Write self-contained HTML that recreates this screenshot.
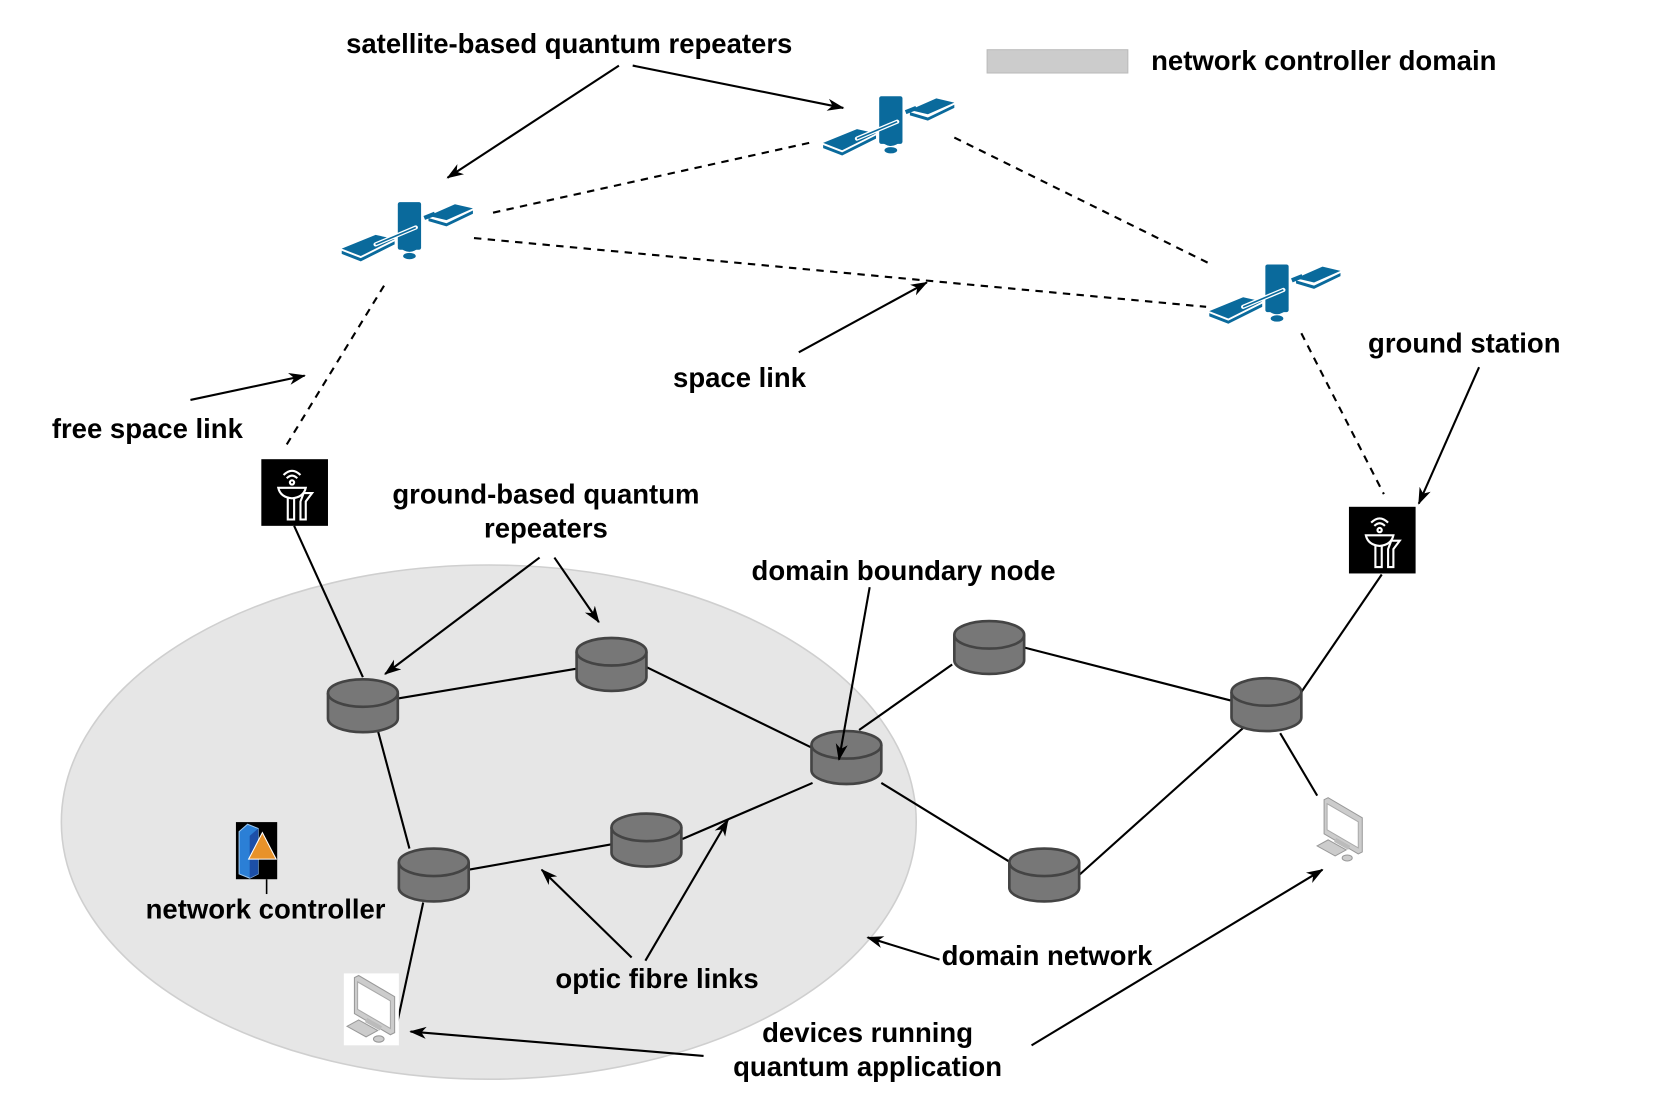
<!DOCTYPE html>
<html><head><meta charset="utf-8"><style>
html,body{margin:0;padding:0;background:#fff;width:1660px;height:1112px;overflow:hidden}
svg{display:block}
text{font-family:"Liberation Sans",Arial,sans-serif;font-weight:bold;font-size:26px;fill:#000}
</style></head><body>
<svg width="1660" height="1112" viewBox="0 0 1569 1051" preserveAspectRatio="none" xmlns="http://www.w3.org/2000/svg">
<defs>
<marker id="ah" viewBox="0 0 14 10" refX="13" refY="5" markerWidth="16" markerHeight="12" orient="auto" markerUnits="userSpaceOnUse">
<path d="M0,0 L14,5 L0,10 L4,5 Z" fill="#000"/>
</marker>
<g id="sat">
<polygon points="-62,17 -30,4 -12,8 -44,24" fill="#0a6a9c"/>
<polygon points="-62,19 -44,26 -12,10 -12,13 -44,29 -62,22" fill="#0a6a9c"/>
<rect x="-9" y="-27" width="22" height="45" rx="2" fill="#0a6a9c"/>
<path d="M-9,14 Q2,26 13,14 Z" fill="#0a6a9c"/>
<ellipse cx="2" cy="24" rx="6" ry="3" fill="#0a6a9c"/>
<line x1="-30" y1="13" x2="8" y2="-3" stroke="#fff" stroke-width="4" stroke-linecap="round"/>
<line x1="-30" y1="13" x2="8" y2="-3" stroke="#0a6a9c" stroke-width="1.5"/>
<polygon points="20,-14 45,-25 62,-21 37,-10" fill="#0a6a9c"/>
<polygon points="20,-12 37,-7 62,-19 62,-16 37,-4 20,-9" fill="#0a6a9c"/>
<path d="M16,-12 L26,-16" stroke="#0a6a9c" stroke-width="4"/>
</g>
<g id="cyl">
<path d="M-33,-12 V12 A33,13 0 0 0 33,12 V-12" fill="#777" stroke="#444" stroke-width="2.5"/>
<ellipse cx="0" cy="-12" rx="33" ry="13" fill="#777" stroke="#444" stroke-width="2.5"/>
</g>
<g id="gs">
<rect x="0" y="0" width="63" height="63" fill="#000"/>
<g fill="none" stroke="#fff" stroke-width="2">
<path d="M21,15 Q29,7 37,15"/><path d="M24,18 Q29,13 34,18"/>
<circle cx="29" cy="22" r="2"/>
<path d="M16,27 H42 Q40,36 29,37 Q18,36 16,27 Z"/>
<path d="M25,37 V57 H31 V37"/>
<path d="M37,40 V57 H42 V40 L48,32 H40 Z"/>
</g>
</g>
<g id="pc">
<rect x="0" y="0" width="52" height="68" fill="#fff"/>
<polygon points="10,4 14,2 48,22 48,56 44,58 10,38" fill="#ccc" stroke="#999"/>
<polygon points="13,8 44,26 44,52 13,34" fill="#fff" stroke="#aaa"/>
<polygon points="22,42 36,50 34,54 20,46" fill="#bbb"/>
<polygon points="3,50 14,44 32,54 21,60" fill="#ccc" stroke="#999"/>
<ellipse cx="33" cy="62" rx="5" ry="3" fill="#ccc" stroke="#999"/>
</g>
</defs>

<ellipse cx="462" cy="777" rx="404" ry="243" fill="#e6e6e6" stroke="#cfcfcf" stroke-width="1.5"/>
<rect x="933" y="47" width="133" height="22" fill="#ccc" stroke="#bbb"/>
<text x="1088" y="66">network controller domain</text>

<g stroke="#000" stroke-width="2" stroke-dasharray="7,6" fill="none">
<line x1="466" y1="201" x2="765" y2="135"/>
<line x1="902" y1="130" x2="1145" y2="250"/>
<line x1="448" y1="225" x2="1140" y2="290"/>
<line x1="363" y1="270" x2="268" y2="425"/>
<line x1="1230" y1="315" x2="1308" y2="467"/>
</g>

<use href="#sat" x="385" y="218"/>
<use href="#sat" x="840" y="118"/>
<use href="#sat" x="1205" y="277"/>

<g stroke="#000" stroke-width="2" fill="none">
<line x1="278" y1="497" x2="343" y2="640"/>
<line x1="377" y1="660" x2="545" y2="632"/>
<line x1="610" y1="630" x2="768" y2="707"/>
<line x1="357" y1="690" x2="387" y2="802"/>
<line x1="443" y1="822" x2="578" y2="798"/>
<line x1="645" y1="793" x2="768" y2="740"/>
<line x1="812" y1="690" x2="900" y2="628"/>
<line x1="968" y1="612" x2="1163" y2="662"/>
<line x1="833" y1="740" x2="955" y2="815"/>
<line x1="1020" y1="827" x2="1175" y2="688"/>
<line x1="1228" y1="657" x2="1306" y2="543"/>
<line x1="1210" y1="693" x2="1245" y2="752"/>
<line x1="400" y1="853" x2="373" y2="978"/>
</g>

<use href="#gs" x="247" y="434"/>
<use href="#gs" x="1275" y="479"/>

<use href="#cyl" x="343" y="667"/>
<use href="#cyl" x="578" y="628"/>
<use href="#cyl" x="800" y="716"/>
<use href="#cyl" x="410" y="827"/>
<use href="#cyl" x="611" y="794"/>
<use href="#cyl" x="935" y="612"/>
<use href="#cyl" x="1197" y="666"/>
<use href="#cyl" x="987" y="827"/>

<use href="#pc" x="325" y="920"/>
<g transform="translate(1242,752) scale(0.95)"><polygon points="10,4 14,2 48,22 48,56 44,58 10,38" fill="#ccc" stroke="#999"/><polygon points="13,8 44,26 44,52 13,34" fill="#fff" stroke="#aaa"/><polygon points="22,42 36,50 34,54 20,46" fill="#bbb"/><polygon points="3,50 14,44 32,54 21,60" fill="#ccc" stroke="#999"/><ellipse cx="33" cy="62" rx="5" ry="3" fill="#ccc" stroke="#999"/></g>

<rect x="223" y="777" width="39" height="54" fill="#000"/>
<polygon points="226,786 234,779 244,783 244,826 236,830 226,826" fill="#2b7fd6" stroke="#9cc8f0"/>
<polygon points="236,790 244,783 244,826 236,830" fill="#1c4fa8"/>
<polygon points="248,787 261,812 235,812" fill="#e8922a" stroke="#fff" stroke-width="1"/>
<line x1="252" y1="831" x2="252" y2="845" stroke="#000" stroke-width="1.5"/>

<g stroke="#000" stroke-width="2" fill="none" marker-end="url(#ah)">
<line x1="585" y1="62" x2="423" y2="168"/>
<line x1="598" y1="62" x2="797" y2="102"/>
<line x1="180" y1="378" x2="288" y2="355"/>
<line x1="755" y1="333" x2="876" y2="267"/>
<line x1="1398" y1="347" x2="1341" y2="476"/>
<line x1="510" y1="527" x2="364" y2="637"/>
<line x1="524" y1="527" x2="566" y2="588"/>
<line x1="822" y1="555" x2="793" y2="718"/>
<line x1="597" y1="905" x2="512" y2="822"/>
<line x1="610" y1="908" x2="688" y2="775"/>
<line x1="888" y1="907" x2="820" y2="886"/>
<line x1="665" y1="998" x2="388" y2="975"/>
<line x1="975" y1="988" x2="1250" y2="822"/>
</g>

<text x="538" y="50" text-anchor="middle">satellite-based quantum repeaters</text>
<text x="49" y="414">free space link</text>
<text x="699" y="366" text-anchor="middle">space link</text>
<text x="1384" y="333" text-anchor="middle">ground station</text>
<text x="516" y="476" text-anchor="middle">ground-based quantum</text>
<text x="516" y="508" text-anchor="middle">repeaters</text>
<text x="854" y="548" text-anchor="middle">domain boundary node</text>
<text x="251" y="868" text-anchor="middle">network controller</text>
<text x="621" y="934" text-anchor="middle">optic fibre links</text>
<text x="890" y="912">domain network</text>
<text x="820" y="985" text-anchor="middle">devices running</text>
<text x="820" y="1017" text-anchor="middle">quantum application</text>
</svg>
</body></html>
